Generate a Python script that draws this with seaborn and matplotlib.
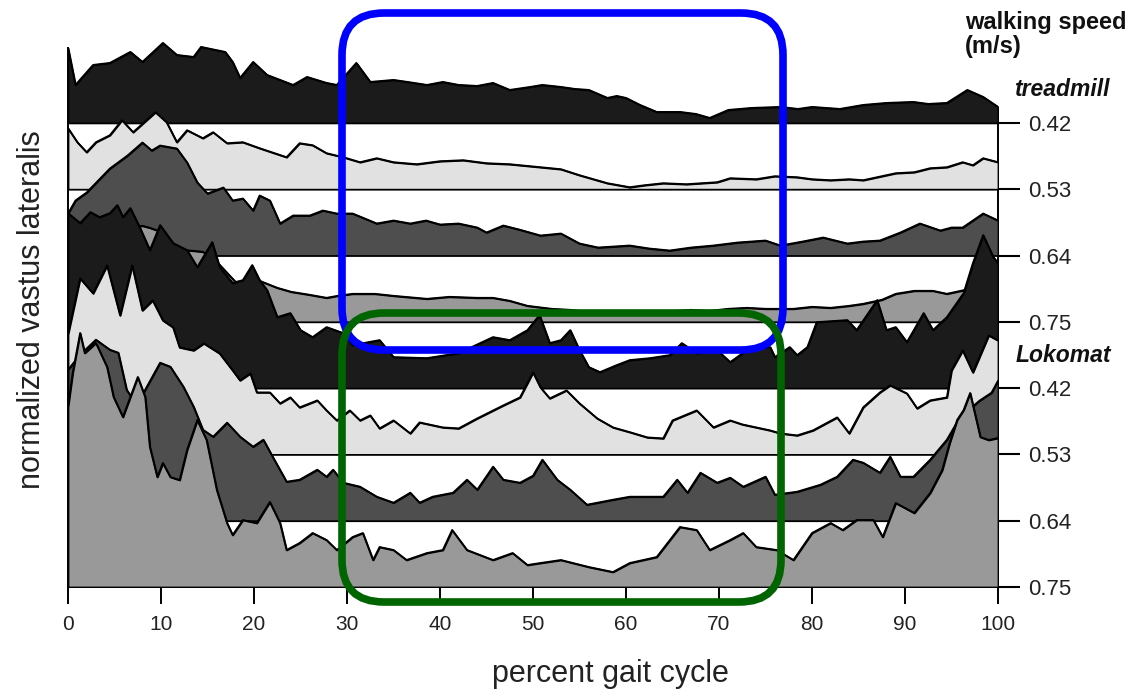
import numpy as np
import pandas as pd
import matplotlib
matplotlib.use("Agg")
import matplotlib.pyplot as plt
from matplotlib.patches import FancyBboxPatch
import seaborn as sns

# ---------------- data (EMG envelope heights above each trace baseline) ----------------
speed_labels = ["0.42", "0.53", "0.64", "0.75", "0.42", "0.53", "0.64", "0.75"]
trace_names = ["treadmill 0.42", "treadmill 0.53", "treadmill 0.64", "treadmill 0.75",
               "Lokomat 0.42", "Lokomat 0.53", "Lokomat 0.64", "Lokomat 0.75"]

t42_x = [0, 0.8, 2.7, 4.5, 6.7, 8, 10.2, 11.7, 13.5, 14.3, 16.9, 17.7, 18.5, 19.9, 21.4, 24.2, 25.7, 27.8,
         28.9, 31, 32.5, 35, 36.5, 38.6, 40.3, 42, 44, 45.7, 47.5, 49.7, 51, 53, 54.5, 56, 58, 59, 60, 61.5,
         63.3, 65.8, 67.5, 69, 71, 73.5, 76.6, 78.5, 80, 83, 85.5, 88, 90.9, 92.5, 94.5, 96.7, 98.4, 100]
t42_h = [75, 38, 58, 60, 71, 61, 80, 68, 66, 76, 71, 61, 45, 61, 48, 38, 46, 40, 38, 60, 41, 43, 41, 38, 41,
         38, 37, 40, 33, 36, 38, 36, 34, 33, 25, 27, 25, 18, 11, 11, 9, 5, 13, 15, 16, 14, 16, 14, 18, 20,
         21, 19, 20, 33, 26, 16]

t53_x = [0, 1, 2, 3, 4.5, 5.8, 7, 9.4, 10.6, 11.7, 12.8, 14.5, 15.6, 17.1, 18.8, 20.6, 23.5, 24.9, 26.3, 27.8,
         29.6, 31.4, 33.2, 35, 37.5, 40, 42.5, 45, 47.5, 50.8, 53, 55, 58, 60.4, 62, 64, 66.5, 69.8, 71.2, 74,
         76, 78.4, 80, 82, 84, 85.5, 87, 89, 91, 92.7, 94.5, 96.2, 97.3, 98.4, 100]
t53_h = [61, 47, 37, 47, 54, 69, 57, 77, 67, 47, 59, 51, 57, 46, 47, 41, 32, 46, 44, 36, 32, 27, 31, 27, 25,
         28, 29, 26, 25, 22, 20, 14, 6, 2, 4, 6, 5, 7, 11, 10, 13, 12, 10, 9, 10, 9, 12, 16, 17, 21, 22, 27,
         24, 31, 27]

t64_x = [0, 0.8, 2, 4.5, 6.4, 8, 9, 9.9, 11.7, 12.8, 13.9, 15, 16.7, 17.7, 18.8, 19.9, 20.6, 21.7, 22.8, 24.2,
         26, 27.4, 28.9, 30.6, 33.2, 35, 36.8, 38.5, 40, 42, 44, 45, 46.8, 48.5, 50.8, 53, 55, 57, 60.4, 62.5,
         64.7, 67, 69.4, 72, 75, 76.6, 79, 81.2, 83.8, 85.5, 87.3, 89.5, 91.6, 93.8, 95, 96.2, 98.4, 100]
t64_h = [42, 55, 63, 87, 100, 113, 105, 110, 107, 93, 73, 62, 68, 55, 57, 45, 60, 55, 32, 40, 40, 45, 42, 42,
         32, 35, 32, 35, 31, 32, 28, 23, 30, 26, 20, 22, 12, 8, 10, 7, 5, 8, 10, 13, 15, 10, 14, 18, 12, 14,
         15, 23, 32, 25, 28, 28, 42, 35]

t75_x = [0, 4, 8, 8.8, 10, 12, 13.5, 14.5, 16, 18, 20.6, 22.5, 24, 26, 27.8, 29, 30.6, 33, 35, 38.6, 41, 44,
         45.7, 47.5, 49.4, 52, 54, 56, 58, 60, 62, 64, 67, 69, 71, 73, 75, 78, 80, 82, 84, 85.5, 87.5, 89, 91,
         93, 94.5, 97, 100]
t75_h = [90, 90, 96, 94, 90, 72, 71, 70, 60, 40, 41, 34, 30, 27, 24, 26, 28, 28, 26, 23, 25, 24, 24, 21, 16,
         13, 12, 10, 9, 9, 10, 10, 12, 11, 13, 14, 13, 13, 15, 14, 16, 18, 22, 28, 31, 31, 28, 33, 36]

l42_x = [0, 1.3, 2.4, 3.4, 4.5, 5.3, 5.9, 6.7, 7.7, 8.8, 9.9, 11.3, 12.8, 13.9, 15.5, 16.3, 17.7, 18.8, 19.8,
         20.6, 21.4, 22.5, 23.9, 25, 26.3, 27.8, 29.6, 30.6, 33.5, 35, 38.6, 42, 45.7, 47.5, 49.4, 50, 50.7,
         51.8, 53, 54, 55, 56, 57.2, 59, 60.4, 62.6, 64.7, 66, 67.6, 69.8, 71.2, 73.3, 75.5, 76, 77.6, 78.4,
         79.5, 80.5, 83.8, 84.8, 87, 88, 89, 90.2, 92, 93, 94.5, 96.3, 97.3, 98.4, 99.5, 100]
l42_h = [175, 165, 176, 171, 175, 183, 171, 180, 161, 138, 163, 145, 138, 121, 146, 121, 105, 108, 123, 108,
         98, 71, 75, 58, 51, 61, 55, 43, 48, 31, 30, 35, 51, 48, 58, 65, 73, 45, 48, 58, 38, 21, 16, 23, 28,
         30, 33, 45, 35, 38, 26, 40, 41, 31, 41, 33, 41, 66, 68, 58, 88, 58, 61, 46, 75, 58, 71, 95, 125, 153,
         131, 125]

l53_x = [0, 1.3, 2.7, 4.2, 5.6, 6.9, 8, 9.1, 10.2, 11.3, 12, 13.5, 14.6, 16.3, 17.7, 18.5, 19.6, 20.3, 21.7,
         22.8, 23.9, 24.9, 26.8, 27.8, 28.9, 30.3, 31.4, 32.5, 33.5, 35, 36.8, 37.8, 40.3, 42, 44, 46.8, 48.6,
         50, 50.8, 51.8, 53.6, 55, 56.9, 58.6, 60.5, 62.3, 64, 65, 67.6, 69.4, 71.2, 72.5, 74, 75.5, 76.6,
         78.4, 80.1, 82.7, 84, 85.5, 87.3, 88.4, 90.2, 91.3, 92.7, 94.5, 95, 96.2, 97.3, 99, 100]
l53_h = [120, 176, 161, 189, 139, 189, 144, 154, 134, 127, 107, 104, 111, 101, 84, 74, 81, 62, 62, 51, 57, 47,
         54, 44, 34, 44, 34, 39, 26, 34, 21, 32, 27, 26, 36, 49, 57, 82, 67, 56, 64, 51, 36, 27, 22, 17, 16,
         34, 44, 27, 34, 30, 27, 24, 21, 19, 24, 37, 21, 47, 62, 69, 61, 46, 54, 57, 84, 104, 82, 119, 114]

l64_x = [0, 1.3, 3, 4.5, 5.4, 6.3, 7, 8, 9.9, 11, 12.4, 13.5, 14.5, 15.6, 17.1, 18.5, 19.9, 21, 22, 23.5, 24.9,
         26.8, 27.8, 28.5, 29.6, 31.4, 33.2, 35, 36.8, 37.8, 39.2, 41.4, 42.9, 44, 45.7, 46.8, 48.6, 50, 51,
         52.6, 54, 55.8, 58.6, 60.4, 64, 65.5, 66.6, 68, 69.8, 71.2, 72.6, 75, 76, 78.4, 80.9, 82.7, 84.4,
         85.5, 87.3, 88.4, 89.5, 90.9, 92.7, 94.5, 96, 97, 98, 99.3, 100]
l64_h = [151, 166, 181, 171, 168, 131, 121, 126, 158, 154, 134, 114, 91, 84, 98, 84, 74, 81, 64, 39, 41, 51,
         44, 51, 38, 34, 24, 18, 28, 18, 24, 28, 41, 31, 54, 41, 38, 45, 61, 41, 31, 16, 21, 24, 24, 41, 28,
         48, 38, 43, 34, 44, 26, 29, 36, 44, 61, 58, 48, 64, 44, 44, 61, 81, 105, 112, 120, 128, 140]

l75_x = [0, 0.5, 1.3, 1.8, 3, 4.2, 4.9, 5.9, 6.7, 7.5, 8.3, 8.8, 9.6, 10.2, 11, 12, 12.8, 13.9, 14.9, 16,
         17.1, 17.7, 18.8, 20.3, 21.7, 22.8, 23.5, 24.9, 26.3, 27.8, 28.9, 30.6, 31.7, 32.8, 33.5, 35, 36.4,
         38.6, 40.3, 41.3, 42.9, 45.7, 47.8, 49.4, 50.8, 53, 56, 58.6, 60.4, 63.3, 65.8, 67.6, 69, 71.2, 72.6,
         74, 76.2, 78, 80, 82, 83.3, 84.8, 86.6, 87.6, 89, 91, 92.7, 94, 94.8, 95.6, 96.3, 97, 98.1, 99, 100]
l75_h = [180, 214, 254, 234, 244, 220, 190, 170, 190, 210, 190, 140, 110, 124, 110, 107, 137, 167, 147, 97,
         64, 52, 67, 64, 85, 64, 37, 44, 54, 47, 37, 50, 54, 27, 40, 37, 27, 34, 37, 57, 37, 27, 34, 22, 24,
         27, 20, 15, 24, 30, 60, 57, 37, 47, 54, 40, 37, 27, 54, 64, 57, 67, 67, 50, 84, 74, 94, 117, 144,
         167, 177, 194, 150, 147, 149]

xs = [t42_x, t53_x, t64_x, t75_x, l42_x, l53_x, l64_x, l75_x]
hs = [t42_h, t53_h, t64_h, t75_h, l42_h, l53_h, l64_h, l75_h]
fills = ["#1b1b1b", "#e1e1e1", "#4e4e4e", "#999999", "#1b1b1b", "#e1e1e1", "#4e4e4e", "#999999"]
x_ticks = [0, 10, 20, 30, 40, 50, 60, 70, 80, 90, 100]

ROW_GAP = 66.3
baselines = [(7 - k) * ROW_GAP for k in range(8)]

# ---------------- figure ----------------
sns.set_theme(style="white")
plt.rcParams["font.family"] = ["Liberation Sans", "DejaVu Sans"]

fig = plt.figure(figsize=(11.4, 6.92), dpi=100)
ax = fig.add_axes([68 / 1140, 1 - 587 / 692, 930 / 1140, 551 / 692])
ax.set_facecolor("none")

frames = []
for k in range(8):
    frames.append(pd.DataFrame({"pct": xs[k], "level": np.array(hs[k], float) + baselines[k],
                                "trace": trace_names[k]}))
df = pd.concat(frames, ignore_index=True)

for k, name in enumerate(trace_names):
    sub = df[df["trace"] == name]
    ax.fill_between(sub["pct"], baselines[k], sub["level"], facecolor=fills[k],
                    edgecolor="black", linewidth=1.3, zorder=2 + k)
    sns.lineplot(data=sub, x="pct", y="level", ax=ax, color="black", linewidth=1.3,
                 estimator=None, sort=False, legend=False, zorder=2.5 + k)

ax.set_xlim(0, 100)
ax.set_ylim(0, 551)
ax.set_xlabel("")
ax.set_ylabel("")

ax.spines["top"].set_visible(False)
for s in ["left", "right", "bottom"]:
    ax.spines[s].set_color("black")
    ax.spines[s].set_linewidth(1.4)
ax.spines["left"].set_bounds(0, baselines[0] + 75)
ax.spines["right"].set_bounds(0, baselines[0])

ax.set_xticks(x_ticks)
ax.set_xticklabels([str(t) for t in x_ticks])
ax.yaxis.tick_right()
ax.set_yticks(baselines)
ax.set_yticklabels(speed_labels)
ax.tick_params(axis="x", direction="out", length=12, width=1.4, pad=8, labelsize=15,
               colors="black", labelcolor="#222222", bottom=True)
ax.tick_params(axis="y", direction="out", length=16, width=1.5, pad=6, labelsize=16,
               colors="black", labelcolor="#222222", right=True, left=False)

# labels
fig.text(610 / 1140, 1 - 674 / 692, "percent gait cycle", ha="center", va="center",
         fontsize=22, color="#222222")
fig.text(32 / 1140, 1 - 310 / 692, "normalized vastus lateralis", ha="center", va="center",
         rotation=90, fontsize=22, color="#222222")
fig.text(965 / 1140, 1 - 22 / 692, "walking speed", ha="left", va="center",
         fontsize=17, fontweight="bold", color="#111111")
fig.text(965 / 1140, 1 - 47 / 692, "(m/s)", ha="left", va="center",
         fontsize=17, fontweight="bold", color="#111111")
fig.text(1062 / 1140, 1 - 89 / 692, "treadmill", ha="center", va="center",
         fontsize=16.5, fontweight="bold", fontstyle="italic", color="#111111")
fig.text(1063 / 1140, 1 - 356 / 692, "Lokomat", ha="center", va="center",
         fontsize=16.5, fontweight="bold", fontstyle="italic", color="#111111")

# highlight boxes (inches)
blue = FancyBboxPatch((3.42, 3.42), 4.41, 3.37, boxstyle="round,pad=0,rounding_size=0.42",
                      transform=fig.dpi_scale_trans, fill=False, edgecolor="#0000ff",
                      linewidth=5.5, zorder=50)
green = FancyBboxPatch((3.42, 0.90), 4.39, 2.89, boxstyle="round,pad=0,rounding_size=0.42",
                       transform=fig.dpi_scale_trans, fill=False, edgecolor="#006400",
                       linewidth=5.5, zorder=51)
fig.add_artist(blue)
fig.add_artist(green)

fig.savefig("out.png", dpi=100)
